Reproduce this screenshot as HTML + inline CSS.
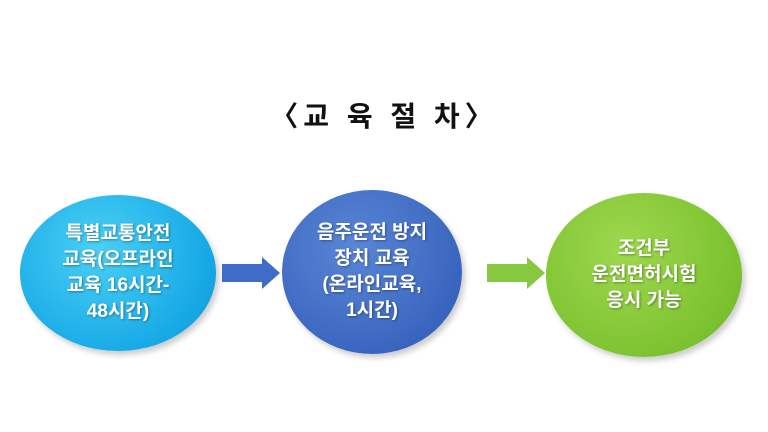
<!DOCTYPE html>
<html><head><meta charset="utf-8"><style>
html,body{margin:0;padding:0;background:#fff;}
body{width:768px;height:432px;overflow:hidden;position:relative;font-family:"Liberation Sans","Noto Sans CJK KR","NanumGothic",sans-serif;}
.t{position:absolute;left:0;width:768px;top:95px;text-align:center;font-size:28px;font-weight:bold;color:#111;letter-spacing:5px;}
.c{position:absolute;border-radius:50%;display:flex;align-items:center;justify-content:center;text-align:center;color:#fff;font-weight:bold;font-size:19px;line-height:26px;text-shadow:1px 1px 2px rgba(0,0,0,.35);box-shadow:3px 4px 6px rgba(0,0,0,.2);}
</style></head><body>
<div class="t">〈교 육 절 차〉</div>
<div class="c" style="left:20px;top:195px;width:196px;height:156px;background:radial-gradient(circle at 40% 35%,#4ad0f5,#17a9e6 70%,#1296d0);">특별교통안전<br>교육(오프라인<br>교육 16시간-<br>48시간)</div>
<div class="c" style="left:282px;top:190px;width:180px;height:164px;background:radial-gradient(circle at 40% 35%,#5a86d6,#3a66c0 70%,#2f58ab);">음주운전 방지<br>장치 교육<br>(온라인교육,<br>1시간)</div>
<div class="c" style="left:546px;top:193px;width:196px;height:164px;background:radial-gradient(circle at 40% 35%,#9ed84e,#7cc230 70%,#6cae26);">조건부<br>운전면허시험<br>응시 가능</div>
<svg width="768" height="432" style="position:absolute;left:0;top:0">
<polygon points="222,264 262,264 262,257 280,273 262,289 262,282 222,282" fill="#3e6cc6"/>
<polygon points="487,264 527,264 527,257 545,273 527,289 527,282 487,282" fill="#86c940"/>
</svg>
</body></html>
